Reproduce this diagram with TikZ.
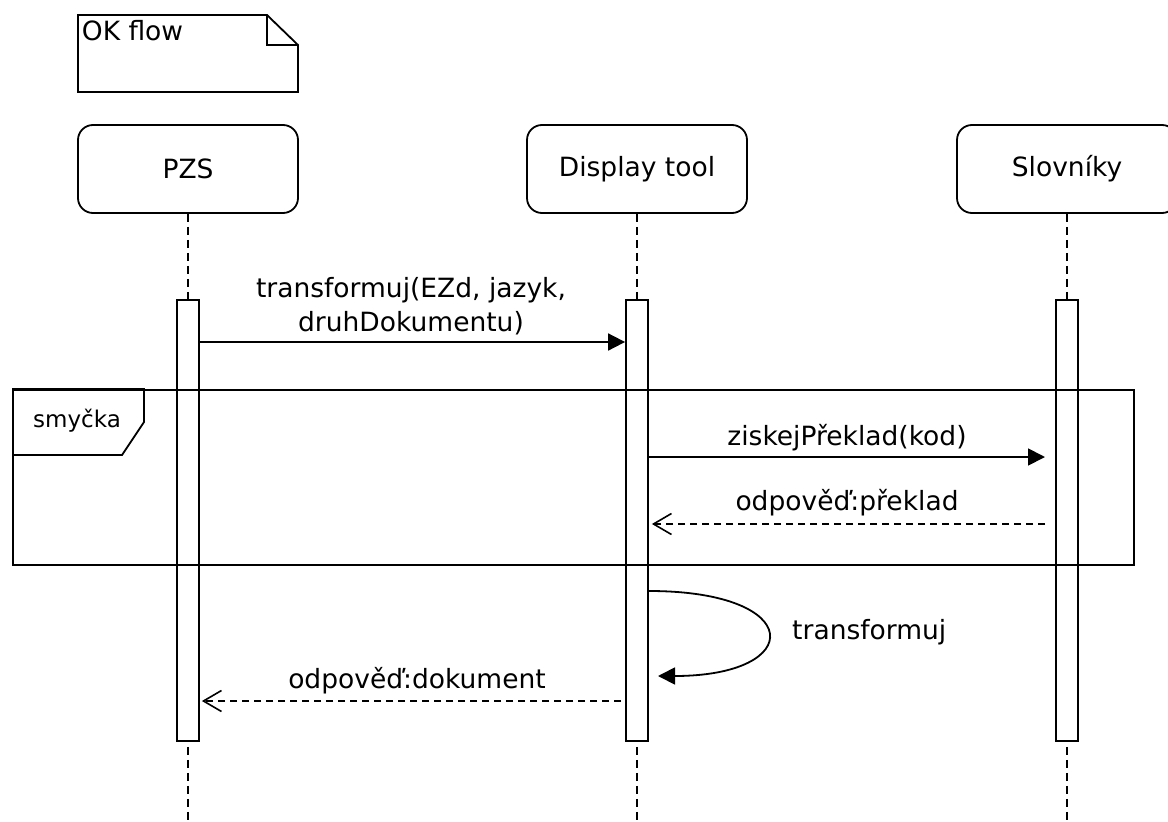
\documentclass[tikz,border=0pt]{standalone}
\usepackage{fontspec}
\setmainfont{DejaVu Sans}
\usetikzlibrary{arrows.meta}
\begin{document}
\begin{tikzpicture}[x=1pt,y=-1pt,
  line width=1.8pt,
  txt/.style={font=\fontsize{26.5}{34}\selectfont},
  head/.style={txt, draw, rounded corners=15pt, minimum width=220pt, minimum height=88pt, inner sep=0pt},
  bar/.style={draw, fill=white, minimum width=22pt, minimum height=441pt, inner sep=0pt},
  life/.style={dash pattern=on 8pt off 5pt, line width=1.6pt},
  msg/.style={-{Triangle[length=17pt,width=17pt]}},
  ret/.style={dash pattern=on 7pt off 5pt, line width=1.5pt, -{Straight Barb[length=18pt,width=21pt,line width=1.6pt]}},
  lbl/.style={txt, fill=white, inner sep=1pt, align=center}
]
\useasboundingbox (0,0) rectangle (1168,822);

% note
\draw (78,15) -- (267,15) -- (298,45) -- (298,92) -- (78,92) -- cycle;
\draw (267,15) -- (267,45) -- (298,45);
\node[txt, anchor=base west, inner sep=0pt] (note) at (81,40) {OK flow};

% headers
\node[head] (pzs) at (188,169) {PZS};
\node[head] (dt) at (637,169) {Display tool};
\node[head] (sl) at (1067,169) {Slovníky};

% lifelines
\coordinate (pzsend) at (188,822);
\coordinate (dtend) at (637,822);
\coordinate (slend) at (1067,822);
\draw[life] (pzs.south) -- (pzsend);
\draw[life] (dt.south) -- (dtend);
\draw[life] (sl.south) -- (slend);

% activation bars
\node[bar] (pzsbar) at (188,520.5) {};
\node[bar] (dtbar) at (637,520.5) {};
\node[bar] (slbar) at (1067,520.5) {};

% loop frame
\node[draw, anchor=north west, minimum width=1121pt, minimum height=175pt, inner sep=0pt] (loop) at (12,389) {};
\draw (loop.north west) -- (144,389) -- (144,422) -- (122,455) -- (12,455);
\node[txt, font=\fontsize{23}{28}\selectfont] (loopl) at (77,421) {smyčka};

% messages
\draw[msg] (pzsbar.east |- 0,342) -- (dtbar.west |- 0,342);
\node[lbl] (m1l) at (411,306) {transformuj(EZd, jazyk,\\druhDokumentu)};

\coordinate (m2e) at (1045,457);
\draw[msg] (dtbar.east |- 0,457) -- (m2e);
\node[lbl] (m2l) at (847,438) {ziskejPřeklad(kod)};

\coordinate (m3s) at (1045,524);
\draw[ret] (m3s) -- ([xshift=3pt]dtbar.east |- 0,524);
\node[lbl] (m3l) at (847,503) {odpověď:překlad};

\coordinate (m5e) at (658,676);
\draw[msg] (dtbar.east |- 0,591) .. controls (806,591) and (806,676) .. (m5e);
\node[txt, anchor=west] (m5l) at (788,632) {transformuj};

\draw[ret] ([xshift=-4pt]dtbar.west |- 0,701) -- ([xshift=2pt]pzsbar.east |- 0,701);
\node[lbl] (m4l) at (417,681) {odpověď:dokument};
\end{tikzpicture}
\end{document}
